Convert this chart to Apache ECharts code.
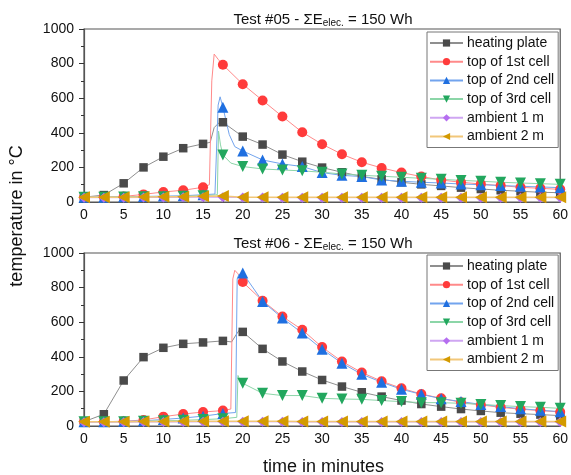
<!DOCTYPE html>
<html>
<head>
<meta charset="utf-8">
<script src="https://cdn.jsdelivr.net/npm/echarts@6/dist/echarts.min.js"></script>
<style>html,body{margin:0;padding:0;background:#fff;}#c{width:571px;height:475px;}</style>
</head>
<body>
<div id="c"></div>
<script>
// ---- data ----
const seriesNames = ['heating plate', 'top of 1st cell', 'top of 2nd cell', 'top of 3rd cell', 'ambient 1 m', 'ambient 2 m'];
const times = [0, 2.5, 5, 7.5, 10, 12.5, 15, 17.5, 20, 22.5, 25, 27.5, 30, 32.5, 35, 37.5, 40, 42.5, 45, 47.5, 50, 52.5, 55, 57.5, 60];
const xTicks = [0, 5, 10, 15, 20, 25, 30, 35, 40, 45, 50, 55, 60];
const yTicks = [0, 200, 400, 600, 800, 1000];

// Test #05 (marker values every 2.5 min)
const t05Heating = [28, 40, 108, 200, 262, 311, 336, 461, 378, 332, 274, 233, 199, 172, 148, 131, 114, 102, 93, 83, 75, 68, 62, 56, 54];
const t05Cell1 = [27, 29, 32, 44, 58, 68, 85, 793, 681, 587, 494, 403, 334, 276, 230, 197, 170, 147, 127, 114, 104, 95, 85, 79, 73];
const t05Cell2 = [27, 28, 30, 32, 34, 36, 42, 548, 295, 243, 220, 205, 170, 154, 147, 127, 120, 114, 110, 104, 100, 95, 91, 87, 83];
const t05Cell3 = [27, 28, 29, 30, 31, 33, 36, 272, 205, 191, 185, 180, 172, 162, 154, 149, 143, 137, 131, 125, 120, 114, 110, 106, 102];
const t05Amb1 = [25, 25, 25, 26, 26, 27, 28, 27, 26, 26, 25, 25, 25, 25, 25, 25, 25, 25, 25, 25, 25, 25, 25, 25, 25];
const t05Amb2 = [27, 27, 28, 29, 30, 31, 33, 34, 28, 28, 27, 27, 27, 27, 27, 27, 27, 27, 27, 27, 27, 27, 27, 27, 27];
// Test #05 extra line-only readings [time, value]
const t05HeatingExtra = [[15.9, 345], [16.4, 430], [17.0, 458]];
const t05Cell1Extra = [[15.8, 100], [16.1, 700], [16.4, 855], [16.9, 825]];
const t05Cell2Extra = [[16.5, 46], [16.9, 560], [17.15, 608], [18.3, 390], [19.0, 320]];
const t05Cell3Extra = [[16.8, 42], [16.95, 410], [17.2, 330], [18.5, 225]];

// Test #06
const t06Heating = [25, 68, 263, 398, 452, 475, 483, 492, 544, 446, 373, 315, 266, 228, 195, 170, 147, 127, 112, 98, 87, 77, 71, 66, 60];
const t06Cell1 = [25, 25, 27, 35, 54, 69, 81, 89, 832, 724, 633, 556, 456, 373, 309, 259, 218, 185, 160, 137, 122, 108, 97, 89, 81];
const t06Cell2 = [25, 25, 27, 30, 38, 46, 57, 72, 884, 720, 624, 537, 444, 363, 299, 253, 212, 183, 158, 141, 125, 112, 100, 91, 83];
const t06Cell3 = [25, 25, 25, 27, 30, 33, 37, 42, 247, 189, 176, 176, 160, 156, 154, 147, 141, 135, 135, 131, 125, 118, 112, 108, 102];
const t06Amb1 = [22, 22, 22, 23, 23, 23, 24, 24, 24, 24, 24, 23, 23, 23, 23, 23, 23, 23, 23, 23, 23, 23, 23, 23, 23];
const t06Amb2 = [25, 25, 25, 26, 26, 27, 27, 28, 28, 27, 27, 26, 26, 26, 26, 26, 26, 26, 26, 26, 26, 26, 26, 26, 26];
const t06HeatingExtra = [[18.6, 486], [19.2, 530], [19.6, 556]];
const t06Cell1Extra = [[18.5, 98], [18.75, 850], [19.0, 900], [19.4, 880]];
const t06Cell2Extra = [[19.1, 78], [19.3, 850], [19.5, 875]];
const t06Cell3Extra = [[19.25, 50], [19.4, 292], [19.6, 270]];

// ---- styles ----
const FONT = 'Liberation Sans, Arial, sans-serif';
const styles = [
  { symbol: 'rect', rot: 0, size: 8.5, mark: '#4a4a4a', line: '#8f8f8f' },
  { symbol: 'circle', rot: 0, size: 10, mark: '#ff3b3b', line: '#ff8a8a' },
  { symbol: 'triangle', rot: 0, size: 11, mark: '#1f6fe0', line: '#72a4ee' },
  { symbol: 'triangle', rot: 180, size: 11, mark: '#22a75e', line: '#8cd6a8' },
  { symbol: 'diamond', rot: 0, size: 10, mark: '#b56ef0', line: '#cfa6f2' },
  { symbol: 'triangle', rot: 90, size: 12, mark: '#d39a00', line: '#f2c77a' }
];

function buildData(values, extras) {
  const pts = times.map((t, i) => ({ value: [t, values[i]] }));
  (extras || []).forEach(([t, v]) => pts.push({ value: [t, v], symbol: 'none' }));
  pts.sort((a, b) => a.value[0] - b.value[0]);
  return pts;
}

const panels = [
  { vals: [t05Heating, t05Cell1, t05Cell2, t05Cell3, t05Amb1, t05Amb2],
    extras: [t05HeatingExtra, t05Cell1Extra, t05Cell2Extra, t05Cell3Extra, [], []] },
  { vals: [t06Heating, t06Cell1, t06Cell2, t06Cell3, t06Amb1, t06Amb2],
    extras: [t06HeatingExtra, t06Cell1Extra, t06Cell2Extra, t06Cell3Extra, [], []] }
];

const series = [];
panels.forEach((p, pi) => {
  seriesNames.forEach((name, si) => {
    const s = styles[si];
    series.push({
      type: 'line', name: name, xAxisIndex: pi, yAxisIndex: pi,
      data: buildData(p.vals[si], p.extras[si]),
      symbol: s.symbol, symbolRotate: s.rot, symbolSize: s.size,
      showAllSymbol: true,
      itemStyle: { color: s.mark },
      lineStyle: { color: s.line, width: si === 5 ? 1.5 : 1 },
      emphasis: { disabled: true },
      animation: false
    });
  });
});

const gridTops = [29, 253];
const grids = gridTops.map(t => ({ left: 84, right: 8, top: t, height: 173, show: true, borderColor: '#555', borderWidth: 1.2, backgroundColor: 'transparent' }));

const xAxes = gridTops.map((t, i) => ({
  type: 'value', gridIndex: i, min: xTicks[0], max: xTicks[xTicks.length - 1], interval: xTicks[1] - xTicks[0],
  axisLine: { show: true, lineStyle: { color: '#555', width: 1.2 } },
  axisTick: { show: true, inside: true, length: 6, lineStyle: { color: '#333' } },
  minorTick: { show: true, splitNumber: 2, length: 6, lineStyle: { color: '#333' } },
  splitLine: { show: false },
  axisLabel: { color: '#111', fontSize: 14, fontFamily: FONT, margin: 6 }
}));
const yAxes = gridTops.map((t, i) => ({
  type: 'value', gridIndex: i, min: yTicks[0], max: yTicks[yTicks.length - 1], interval: yTicks[1] - yTicks[0],
  axisLine: { show: true, lineStyle: { color: '#555', width: 1.2 } },
  axisTick: { show: true, inside: false, length: 5, lineStyle: { color: '#333' } },
  minorTick: { show: true, splitNumber: 2, length: 3, lineStyle: { color: '#333' } },
  splitLine: { show: false },
  axisLabel: { color: '#111', fontSize: 14, fontFamily: FONT, margin: 10, formatter: v => String(v) }
}));

const titleRich = {
  a: { fontSize: 15, fontFamily: FONT, fontWeight: 'normal', color: '#111' },
  b: { fontSize: 10, fontFamily: FONT, fontWeight: 'normal', color: '#111', verticalAlign: 'bottom', padding: [6, 0, 0, 0] }
};
const titles = [['05', 7], ['06', 231]].map(([n, top]) => ({
  text: '{a|Test #' + n + ' - \u03A3E}{b|elec.}{a| = 150 Wh}',
  left: 318, top: top, textAlign: 'center',
  textStyle: { rich: titleRich, fontFamily: FONT, fontWeight: 'normal' }
}));

const legends = [32, 255].map(top => ({
  data: seriesNames, orient: 'vertical', left: 427, top: top,
  itemWidth: 33, itemHeight: 9, itemGap: 4.7,
  padding: [4, 4, 4, 2],
  borderColor: '#777', borderWidth: 1, backgroundColor: '#fff',
  textStyle: { fontSize: 14, fontFamily: FONT, color: '#111', padding: [0, 0, 0, -1] },
  selectedMode: false
}));

const chart = echarts.init(document.getElementById('c'), null, { renderer: 'canvas' });
chart.setOption({
  backgroundColor: '#fff',
  animation: false,
  title: titles,
  legend: legends,
  grid: grids,
  xAxis: xAxes,
  yAxis: yAxes,
  series: series,
  graphic: [
    { type: 'text', x: 17, y: 216, rotation: Math.PI / 2,
      style: { text: 'temperature in \u00B0C', font: '18px ' + FONT, fill: '#111', textAlign: 'center', textVerticalAlign: 'middle' } },
    { type: 'text', x: 323.5, y: 467,
      style: { text: 'time in minutes', font: '18px ' + FONT, fill: '#111', textAlign: 'center', textVerticalAlign: 'middle' } }
  ]
});
</script>
</body>
</html>
